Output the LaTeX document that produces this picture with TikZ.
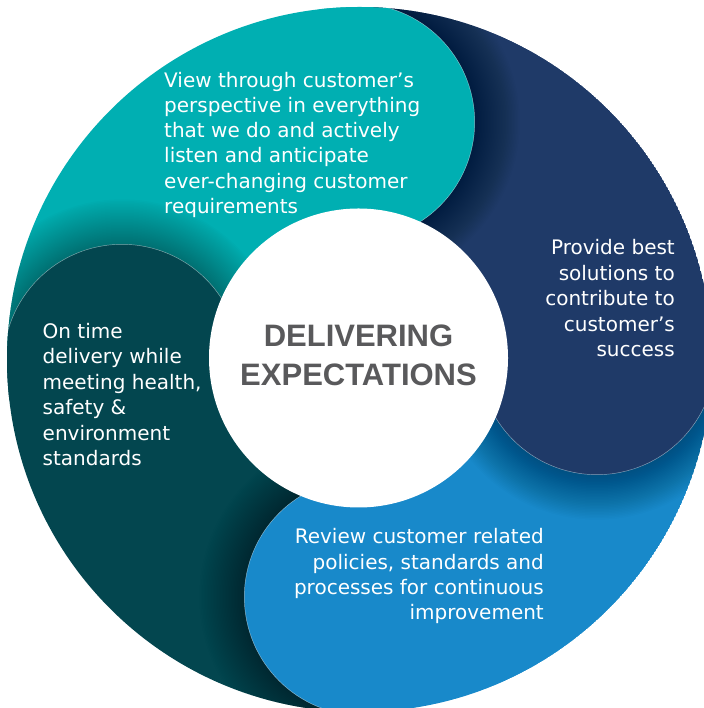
\documentclass[tikz,border=0pt]{standalone}
\usepackage{fontspec}
\setmainfont{DejaVu Sans}
\newfontfamily\headfont{Liberation Sans}
\usetikzlibrary{calc}

\definecolor{segteal}{HTML}{00AFB2}
\definecolor{segnavy}{HTML}{1F3A68}
\definecolor{segblue}{HTML}{1889CA}
\definecolor{segdark}{HTML}{03464F}
\definecolor{headgrey}{HTML}{59595B}

\begin{document}
\begin{tikzpicture}[x=1pt,y=1pt,
  bodytext/.style={text=white, inner sep=0pt, font=\fontsize{20}{25}\selectfont},
  headtext/.style={text=headgrey, inner sep=0pt, font=\headfont\bfseries\fontsize{31}{39}\selectfont},
  lobeedge/.style={draw=white, draw opacity=0.5, line width=0.45pt}]
\useasboundingbox (0,0) rectangle (703,708);

% ring geometry
\def\Rout{352.5}
\def\Rin{149.5}
\def\Rlobe{118.5}
\def\Dlobe{237.5}
\coordinate (O) at (359.5,348.5);
\coordinate (I) at (358.5,350);

\begin{scope}
  \clip (O) circle[radius=\Rout];

  % the four quarter segments, each ending in its lobe angle
  \foreach \ang/\col in {90.8/segteal, 0.8/segnavy, -89.2/segblue, 180.8/segdark}{
    \fill[\col] (O) -- ($(O)+(\ang+90:\Rout)$)
      arc[start angle=\ang+90, end angle=\ang, radius=\Rout] -- cycle;
  }

  % lobes with their soft shadow on the following segment
  \foreach \ang/\col/\nm in {90.8/segteal/lteal, 0.8/segnavy/lnavy, -89.2/segblue/lblue, 180.8/segdark/ldark}{
    \coordinate (\nm) at ($(O)+(\ang:\Dlobe)$);
    \begin{scope}
      \clip (O) -- ($(O)+(\ang:420)$)
        arc[start angle=\ang, end angle=\ang-90, radius=420] -- cycle;
      \foreach \k in {1,...,30}
        \fill[black, opacity=0.012] (\nm) circle[radius=\Rlobe+1.5*\k];
    \end{scope}
    \fill[\col] (\nm) circle[radius=\Rlobe];
    \begin{scope}
      \clip (O) -- ($(O)+(\ang:420)$)
        arc[start angle=\ang, end angle=\ang-90, radius=420] -- cycle;
      \draw[lobeedge] (\nm) circle[radius=\Rlobe];
    \end{scope}
  }
\end{scope}

% white hub
\fill[white] (I) circle[radius=\Rin];

% hub title
\node[headtext, anchor=base] (h1) at (358.5,361) {DELIVERING};
\node[headtext, anchor=base] (h2) at (358.5,322) {EXPECTATIONS};

% teal segment text
\foreach \t [count=\i] in {View through customer’s, perspective in everything,
  that we do and actively, listen and anticipate,
  ever-changing customer, requirements}
  \node[bodytext, anchor=base west] (teal\i) at (164,{620.7-25.2*(\i-1)}) {\t};

% navy segment text
\foreach \t [count=\i] in {Provide best, solutions to, contribute to,
  customer’s, success}
  \node[bodytext, anchor=base east] (navy\i) at (675,{453-25.4*(\i-1)}) {\t};

% dark segment text
\foreach \t [count=\i] in {On time, delivery while, {meeting health,},
  safety \&, environment, standards}
  \node[bodytext, anchor=base west] (dark\i) at (42.5,{369.7-25.5*(\i-1)}) {\t};

% blue segment text
\foreach \t [count=\i] in {Review customer related, {policies, standards and},
  processes for continuous, improvement}
  \node[bodytext, anchor=base east] (blue\i) at (544,{164-25.3*(\i-1)}) {\t};
\end{tikzpicture}
\end{document}
